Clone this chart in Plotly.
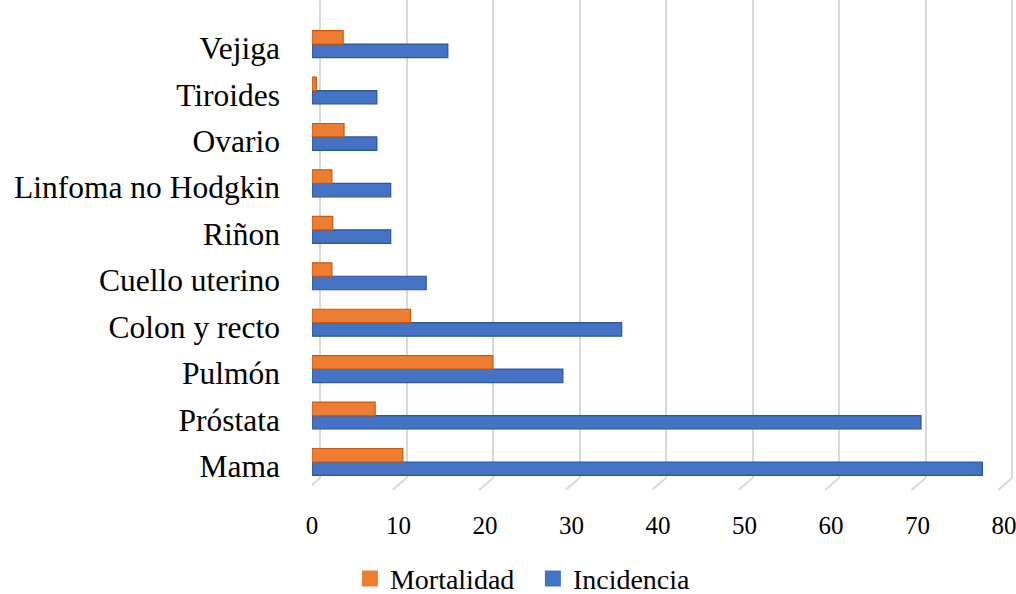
import plotly.graph_objects as go

# Cancer sites, listed bottom to top as they appear on the y axis
categories = ["Mama", "Próstata", "Pulmón", "Colon y recto", "Cuello uterino",
              "Riñon", "Linfoma no Hodgkin", "Ovario", "Tiroides", "Vejiga"]
incidencia = [77.5, 70.4, 29.0, 35.8, 13.2, 9.1, 9.1, 7.5, 7.5, 15.7]
mortalidad = [10.5, 7.3, 20.9, 11.4, 2.3, 2.4, 2.3, 3.7, 0.5, 3.6]
x_ticks = [0, 10, 20, 30, 40, 50, 60, 70, 80]

BLUE = "#4472C4"
ORANGE = "#ED7D31"
SERIF = "Times New Roman, Liberation Serif, serif"
GRID = "#D9D9D9"

X_MAX = 81.15          # front plane (bars and tick labels)
BACK_SHIFT = 0.925     # back wall gridlines sit a little to the right

fig = go.Figure()
# first trace sits lowest inside each group, so incidence goes first
fig.add_trace(go.Bar(
    y=categories, x=incidencia, orientation="h", name="Incidencia",
    marker=dict(color=BLUE, line=dict(color="#2F5597", width=1.2)),
    showlegend=False,
))
fig.add_trace(go.Bar(
    y=categories, x=mortalidad, orientation="h", name="Mortalidad",
    marker=dict(color=ORANGE, line=dict(color="#C55A11", width=1.2)),
    showlegend=False,
))

# legend entries drawn as plain square swatches
for name, color in [("Mortalidad", ORANGE), ("Incidencia", BLUE)]:
    fig.add_trace(go.Scatter(
        x=[None], y=[None], mode="markers", name=name,
        marker=dict(symbol="square", size=16, color=color),
        hoverinfo="skip",
    ))

# short slanted floor marks under each back-wall gridline
for v in x_ticks:
    fig.add_shape(
        type="line", xref="x2", yref="paper",
        x0=v, y0=0.0, x1=v - 1.62, y1=-0.025,
        line=dict(color=GRID, width=2), layer="below",
    )

fig.update_layout(
    width=1016, height=594,
    margin=dict(l=312, r=2, t=0, b=116, autoexpand=False),
    paper_bgcolor="white", plot_bgcolor="white",
    barmode="group", bargap=0.42, bargroupgap=0.0,
    font=dict(family=SERIF, color="#000000"),
    showlegend=True,
    legend=dict(
        orientation="h", traceorder="normal",
        x=0.054, xanchor="left", y=-0.211, yanchor="middle",
        font=dict(family=SERIF, size=28, color="#000000"),
        itemwidth=30, entrywidth=138, itemsizing="trace",
    ),
    xaxis=dict(
        range=[0, X_MAX], tickvals=x_ticks, ticktext=[str(v) for v in x_ticks],
        showgrid=False, zeroline=False, showline=False, automargin=False,
        tickfont=dict(family=SERIF, size=25, color="#000000"),
        ticks="", ticklabelstandoff=30, ticklabeloverflow="allow",
    ),
    xaxis2=dict(
        overlaying="x", side="bottom",
        range=[-BACK_SHIFT, X_MAX - BACK_SHIFT], tickvals=x_ticks,
        showticklabels=False, showgrid=True, gridcolor=GRID, gridwidth=2,
        zeroline=False, showline=False, automargin=False, ticks="",
    ),
    yaxis=dict(
        categoryorder="array", categoryarray=categories,
        range=[-0.345, 9.95],
        showgrid=False, zeroline=False, showline=False, automargin=False,
        tickfont=dict(family=SERIF, size=31.5, color="#000000"),
        ticks="", ticklabelstandoff=31, ticklabelshift=4,
    ),
)

# an empty trace keeps the back-wall axis active
fig.add_trace(go.Scatter(x=[None], y=[None], xaxis="x2", showlegend=False,
                         hoverinfo="skip"))

fig.write_html("out.html")
